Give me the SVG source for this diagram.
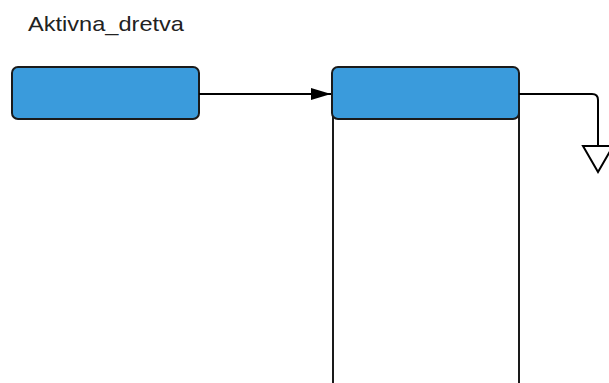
<svg xmlns="http://www.w3.org/2000/svg" width="609" height="383" viewBox="0 0 609 383">
<style>
.hdr{fill:#3a9bdc;stroke:#1a1a1a;stroke-width:2}
.wall{fill:none;stroke:#1a1a1a;stroke-width:2}
.conn{fill:none;stroke:#000;stroke-width:2}
.lbl{font-family:"Liberation Sans",Arial,sans-serif;font-size:21px;fill:#222}
</style>
<defs>
<marker id="fill" markerWidth="20" markerHeight="14" refX="20" refY="7" orient="auto" markerUnits="userSpaceOnUse">
<path d="M0,1 L20,7 L0,13 Z" fill="#000"/>
</marker>
</defs>
<rect width="609" height="383" fill="#fff"/>
<text class="lbl" x="28" y="31" textLength="156" lengthAdjust="spacingAndGlyphs">Aktivna_dretva</text>
<g id="node-aktivna">
<rect class="hdr" x="12" y="67" width="187" height="52" rx="6"/>
</g>
<g id="node-lista">
<path class="wall" d="M333,110 V383 M519,110 V383"/>
<rect class="hdr" x="332" y="67" width="187" height="52" rx="6"/>
</g>
<g id="connectors">
<path class="conn" d="M199,94 H331" marker-end="url(#fill)"/>
<path class="conn" d="M519,94 H592 Q598,94 598,100 V146"/>
<path d="M583,146 L613,146 L598,172 Z" fill="#fff" stroke="#000" stroke-width="2"/>
</g>
</svg>
